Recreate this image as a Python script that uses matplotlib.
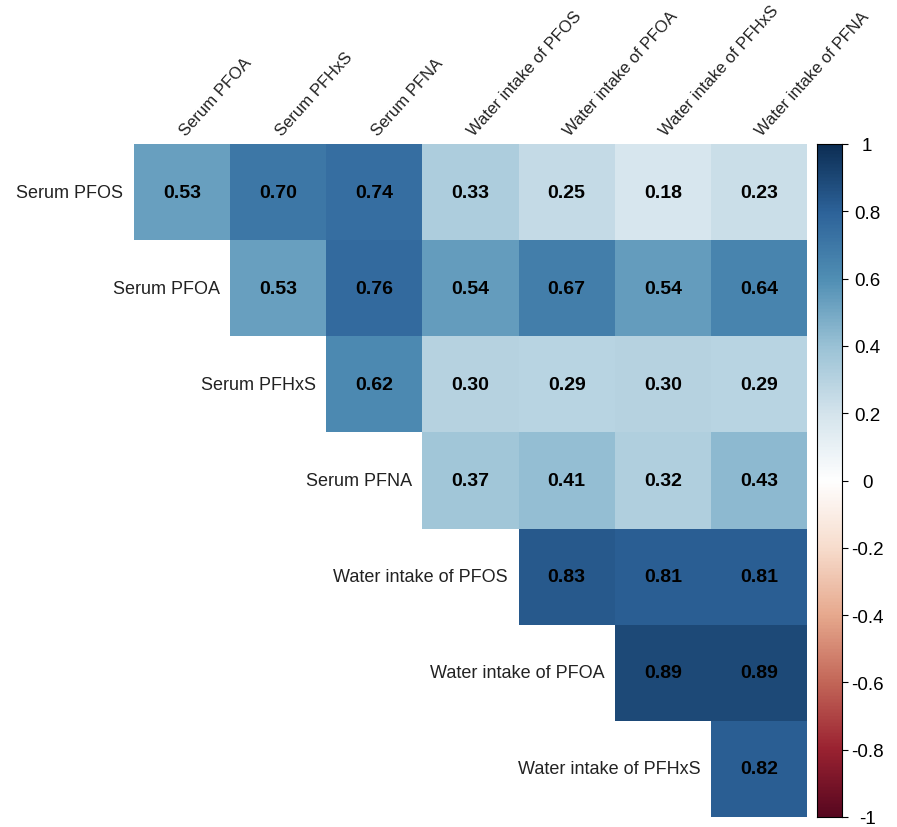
import numpy as np
import matplotlib.pyplot as plt
from matplotlib.colors import LinearSegmentedColormap, to_rgb

plt.rcParams['font.family'] = ['Liberation Sans', 'DejaVu Sans']

row_names = ["Serum PFOS", "Serum PFOA", "Serum PFHxS", "Serum PFNA",
             "Water intake of PFOS", "Water intake of PFOA", "Water intake of PFHxS"]
col_names = ["Serum PFOA", "Serum PFHxS", "Serum PFNA", "Water intake of PFOS",
             "Water intake of PFOA", "Water intake of PFHxS", "Water intake of PFNA"]

# upper triangle, row i starts at column i
r_pfos = [0.53, 0.70, 0.74, 0.33, 0.25, 0.18, 0.23]
r_pfoa = [0.53, 0.76, 0.54, 0.67, 0.54, 0.64]
r_pfhxs = [0.62, 0.30, 0.29, 0.30, 0.29]
r_pfna = [0.37, 0.41, 0.32, 0.43]
r_w_pfos = [0.83, 0.81, 0.81]
r_w_pfoa = [0.89, 0.89]
r_w_pfhxs = [0.82]
rows = [r_pfos, r_pfoa, r_pfhxs, r_pfna, r_w_pfos, r_w_pfoa, r_w_pfhxs]

n = len(col_names)
mat = np.full((n, n), np.nan)
for i, vals in enumerate(rows):
    mat[i, i:i + len(vals)] = vals

# RdBu ramp, toned down a bit
col2 = ["#67001F", "#B2182B", "#D6604D", "#F4A582", "#FDDBC7", "#FFFFFF",
        "#D1E5F0", "#92C5DE", "#4393C3", "#2166AC", "#053061"]
def mute(c, k=0.22):
    rgb = np.array(to_rgb(c))
    g = 0.3 * rgb[0] + 0.59 * rgb[1] + 0.11 * rgb[2]
    return tuple(rgb * (1 - k) + g * k)
cmap = LinearSegmentedColormap.from_list("rdbu", [mute(c) for c in col2], N=200)

fig = plt.figure(figsize=(8.97, 8.28), dpi=100)
W, H = 897, 828
x0, x1, y0, y1 = 134, 807, 145, 818
ax = fig.add_axes([x0 / W, 1 - y1 / H, (x1 - x0) / W, (y1 - y0) / H])
ax.pcolormesh(np.arange(n + 1), np.arange(n + 1), np.ma.masked_invalid(mat),
              cmap=cmap, vmin=-1, vmax=1, edgecolor='none')
ax.set_xlim(0, n)
ax.set_ylim(n, 0)
ax.axis('off')

for i in range(n):
    for j in range(n):
        if not np.isnan(mat[i, j]):
            ax.text(j + 0.5, i + 0.5, f"{mat[i, j]:.2f}", ha='center', va='center',
                    fontsize=14, fontweight='bold', color='black')
    # row label just left of first cell
    ax.text(i - 0.11, i + 0.5, row_names[i], ha='right', va='center',
            fontsize=13, color='#222222')

for j in range(n):
    ax.text(j + 0.56, -0.06, col_names[j], rotation=48, rotation_mode='anchor',
            ha='left', va='bottom', fontsize=12, color='#222222', clip_on=False)

cax = fig.add_axes([817 / W, 1 - y1 / H, 25 / W, (y1 - y0) / H])
grad = np.linspace(-1, 1, 400).reshape(-1, 1)
cax.imshow(grad, aspect='auto', cmap=cmap, vmin=-1, vmax=1, origin='lower',
           extent=[0, 1, -1, 1])
cax.set_xlim(0, 1)
cax.set_ylim(-1, 1)
cax.set_xticks([])
ticks = np.round(np.arange(-1, 1.01, 0.2), 1)
cax.set_yticks(ticks)
cax.set_yticklabels([f"{t:g}" if t != 0 else "0" for t in ticks])
cax.yaxis.tick_right()
cax.tick_params(axis='y', length=4, width=0.8, pad=14, labelsize=13.5, colors='black')
for lab in cax.get_yticklabels():
    lab.set_horizontalalignment('center')
for s in cax.spines.values():
    s.set_linewidth(0.8)

fig.savefig("out.png", dpi=100)
